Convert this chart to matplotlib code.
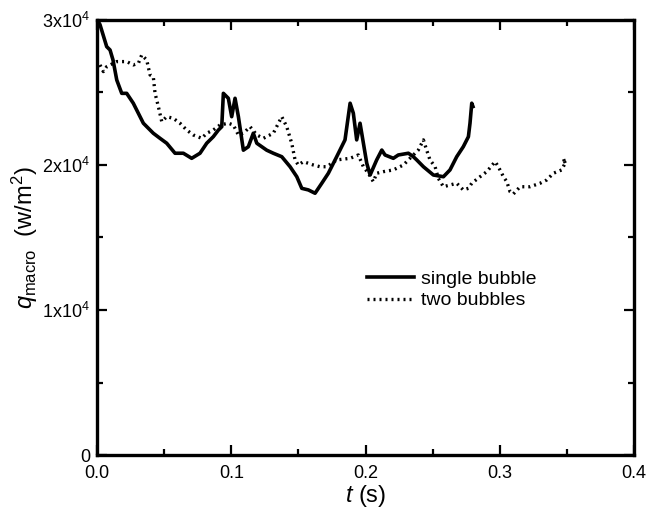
import matplotlib.pyplot as plt
from matplotlib.ticker import MultipleLocator, FixedLocator

plt.rcParams['font.family'] = ['Liberation Sans', 'DejaVu Sans']
plt.rcParams['mathtext.fontset'] = 'custom'
plt.rcParams['mathtext.rm'] = 'Liberation Sans'
plt.rcParams['mathtext.it'] = 'Liberation Sans:italic'

# single bubble (solid line)
t_single = [0.0007, 0.0022, 0.0072, 0.0097, 0.0119, 0.0147, 0.0184, 0.0221, 0.0270,
            0.0345, 0.0419, 0.0469, 0.0519, 0.0581, 0.0643, 0.0705, 0.0767, 0.0817,
            0.0866, 0.0904, 0.0929, 0.0941, 0.0978, 0.1003, 0.1028, 0.1053, 0.1090,
            0.1127, 0.1164, 0.1190, 0.1264, 0.1313, 0.1376, 0.1438, 0.1488, 0.1525,
            0.1574, 0.1624, 0.1674, 0.1723, 0.1785, 0.1847, 0.1885, 0.1909, 0.1934,
            0.1959, 0.1984, 0.2009, 0.2034, 0.2083, 0.2121, 0.2145, 0.2207, 0.2244,
            0.2319, 0.2356, 0.2381, 0.2431, 0.2505, 0.2580, 0.2629, 0.2679, 0.2728,
            0.2766, 0.2778, 0.2791, 0.2800]
q_single = [29930, 29680, 28160, 27930, 27240, 25860, 24940, 24940, 24260,
            22880, 22190, 21840, 21500, 20810, 20810, 20460, 20810, 21500,
            21950, 22410, 22640, 24940, 24600, 23330, 24600, 23330, 21020,
            21260, 22190, 21500, 21020, 20810, 20570, 19880, 19190, 18390,
            18280, 18050, 18740, 19430, 20570, 21730, 24260, 23570, 21730,
            22880, 21500, 20120, 19310, 20350, 21030, 20690, 20460, 20690,
            20810, 20570, 20350, 19880, 19310, 19190, 19660, 20570, 21260,
            21950, 22880, 24260, 24030]

# two bubbles (dotted line)
t_two = [0.0022, 0.0047, 0.0072, 0.0147, 0.0221, 0.0270, 0.0308, 0.0333, 0.0370,
         0.0395, 0.0419, 0.0432, 0.0457, 0.0482, 0.0519, 0.0568, 0.0618, 0.0668,
         0.0717, 0.0780, 0.0817, 0.0866, 0.0916, 0.0978, 0.1015, 0.1053, 0.1090,
         0.1140, 0.1190, 0.1239, 0.1313, 0.1376, 0.1413, 0.1450, 0.1475, 0.1499,
         0.1537, 0.1611, 0.1661, 0.1711, 0.1785, 0.1885, 0.1946, 0.1984, 0.2021,
         0.2058, 0.2083, 0.2133, 0.2207, 0.2282, 0.2331, 0.2393, 0.2431, 0.2455,
         0.2480, 0.2518, 0.2542, 0.2580, 0.2629, 0.2679, 0.2728, 0.2766, 0.2791,
         0.2853, 0.2903, 0.2965, 0.2989, 0.3027, 0.3052, 0.3076, 0.3101, 0.3151,
         0.3225, 0.3300, 0.3350, 0.3399, 0.3461, 0.3486, 0.3473, 0.3498]
q_two = [26900, 26440, 26780, 27130, 27130, 26900, 27010, 27590, 27240,
         26210, 26090, 24950, 24020, 22990, 23330, 23220, 22880, 22410,
         22070, 21840, 22190, 22410, 22760, 22880, 22760, 22070, 22190,
         22640, 22070, 21840, 22190, 23330, 22640, 21500, 20350, 20000,
         20230, 20000, 19880, 19880, 20350, 20460, 20690, 19880, 19430,
         18850, 19430, 19540, 19660, 20000, 20460, 21030, 21730, 21030,
         20350, 19880, 19080, 18500, 18620, 18740, 18280, 18390, 18740,
         19190, 19540, 20230, 19880, 19190, 18850, 18160, 18000, 18500,
         18500, 18740, 18970, 19430, 19660, 20120, 20460, 19880]

y_ticks = [0, 10000, 20000, 30000]
y_ticklabels = ['0', '1x10$^4$', '2x10$^4$', '3x10$^4$']
x_ticks = [0.0, 0.1, 0.2, 0.3, 0.4]
x_ticklabels = ['0.0', '0.1', '0.2', '0.3', '0.4']

fig = plt.figure(figsize=(6.49, 5.12), dpi=100)
ax = fig.add_axes([0.1495, 0.1113, 0.8275, 0.8497])

ax.plot(t_single, q_single, color='black', linewidth=2.6, label='single bubble')
ax.plot(t_two, q_two, color='black', linewidth=2.4, linestyle=(0, (0.6, 1.2)),
        label='two bubbles')

ax.set_xlim(0, 0.4)
ax.set_ylim(0, 30000)
ax.xaxis.set_major_locator(FixedLocator(x_ticks))
ax.set_xticklabels(x_ticklabels)
ax.xaxis.set_minor_locator(MultipleLocator(0.05))
ax.yaxis.set_major_locator(FixedLocator(y_ticks))
ax.set_yticklabels(y_ticklabels)
ax.yaxis.set_minor_locator(MultipleLocator(5000))

ax.tick_params(which='both', direction='in', top=True, right=True, labelsize=13, width=1.6)
ax.tick_params(which='major', length=7)
ax.tick_params(which='minor', length=4)
ax.tick_params(axis='x', which='major', pad=7)
ax.tick_params(axis='y', which='major', pad=5)
for sp in ax.spines.values():
    sp.set_linewidth(2.4)

ax.set_xlabel('$t$ (s)', fontsize=17, labelpad=1)
ax.set_ylabel(r'$q_{\mathrm{macro}}$  (w/m$^2$)', fontsize=17, labelpad=2)

ax.legend(loc='upper left', bbox_to_anchor=(0.47, 0.465), frameon=False, fontsize=14,
          handlelength=2.4, handletextpad=0.4, labelspacing=0.2)

plt.savefig('out.png', dpi=100)
